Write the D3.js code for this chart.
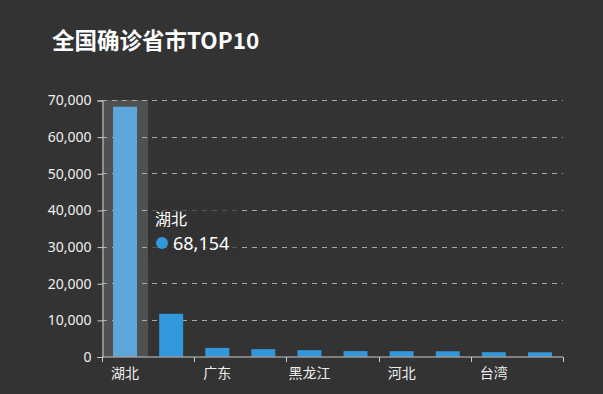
<!DOCTYPE html>
<html>
<head>
<meta charset="utf-8">
<script src="https://cdn.jsdelivr.net/npm/d3@7"></script>
<style>
	html, body { margin: 0; padding: 0; background: #333333; overflow: hidden; }
	svg { display: block; font-family: "Noto Sans CJK SC", "Noto Sans", sans-serif; }
</style>
</head>
<body>
<div id="chart"></div>
<script>

// data
var provinces = ["湖北", "香港", "广东", "上海", "黑龙江", "浙江", "河北", "河南", "台湾", "湖南"];
var confirmed = [68154, 11650, 2350, 2000, 1720, 1470, 1450, 1420, 1180, 1150];
var yTicks = [0, 10000, 20000, 30000, 40000, 50000, 60000, 70000];
var titleText = "全国确诊省市TOP10";
var active = 0;	// bar under the pointer

var width = 603,
	height = 394,
	margin = { top: 100, right: 40, bottom: 37.5, left: 102 };

var svg = d3.select("#chart").append("svg")
	.attr("width", width)
	.attr("height", height);

svg.append("rect")
	.attr("width", width)
	.attr("height", height)
	.attr("fill", "#333333");

// title
svg.append("text")
	.attr("x", 52)
	.attr("y", 49)
	.attr("fill", "#ffffff")
	.style("font-size", "22.5px")
	.style("font-weight", "bold")
	.text(titleText);

var xScale = d3.scaleBand()
	.domain(provinces)
	.range([margin.left, width - margin.right])
	.padding(0);

var yScale = d3.scaleLinear()
	.domain([0, 70000])
	.range([height - margin.bottom, margin.top]);

var g = svg.append("g");

// shadow behind the active bar
g.append("rect")
	.attr("x", xScale(provinces[active]))
	.attr("y", yScale(70000))
	.attr("width", xScale.bandwidth())
	.attr("height", yScale(0) - yScale(70000))
	.attr("fill", "rgba(150,150,150,0.3)");

// dashed grid lines
g.selectAll(".grid")
	.data(yTicks.slice(1)).enter()
	.append("line")
		.attr("class", "grid")
		.attr("x1", margin.left)
		.attr("x2", width - margin.right)
		.attr("y1", function(d){ return Math.round(yScale(d)) + 0.5 })
		.attr("y2", function(d){ return Math.round(yScale(d)) + 0.5 })
		.attr("stroke", "#aaaaaa")
		.attr("stroke-width", 1)
		.attr("stroke-dasharray", "5,5");

// bars
var barW = xScale.bandwidth() * 0.52;
g.selectAll(".bar")
	.data(confirmed).enter()
	.append("rect")
		.attr("class", "bar")
		.attr("x", function(d, i){ return xScale(provinces[i]) + (xScale.bandwidth() - barW) / 2 })
		.attr("y", function(d){ return yScale(d) })
		.attr("width", barW)
		.attr("height", function(d){ return yScale(0) - yScale(d) })
		.attr("fill", function(d, i){ return i == active ? "#5ca6d9" : "#3398db" });

// y axis
var yAxis = d3.axisLeft(yScale)
	.tickValues(yTicks)
	.tickSize(5)
	.tickPadding(6)
	.tickFormat(d3.format(","));

var yG = svg.append("g")
	.attr("transform", "translate(" + (margin.left + 0.5) + ",0.5)")
	.call(yAxis);
yG.select(".domain").attr("stroke", "#cccccc");
yG.selectAll(".tick line").attr("stroke", "#cccccc");
yG.selectAll(".tick text")
	.attr("fill", "#eeeeee")
	.style("font-size", "14px")
	.style("font-family", "'Noto Sans', sans-serif");

// x axis: label every other category, ticks on every other boundary
var xG = svg.append("g")
	.attr("transform", "translate(0," + (yScale(0) + 0.5) + ")");
xG.append("line")
	.attr("x1", margin.left)
	.attr("x2", width - margin.right)
	.attr("stroke", "#cccccc");
var bounds = d3.range(0, provinces.length + 1, 2).map(function(i){
	return i < provinces.length ? xScale(provinces[i]) : xScale.range()[1];
});
xG.selectAll(".xtick")
	.data(bounds).enter()
	.append("line")
		.attr("class", "xtick")
		.attr("x1", function(d){ return Math.round(d) + 0.5 })
		.attr("x2", function(d){ return Math.round(d) + 0.5 })
		.attr("y1", 0)
		.attr("y2", 5)
		.attr("stroke", "#cccccc");
xG.selectAll(".xlabel")
	.data(provinces.filter(function(d, i){ return i % 2 == 0 })).enter()
	.append("text")
		.attr("class", "xlabel")
		.attr("x", function(d){ return xScale(d) + xScale.bandwidth() / 2 })
		.attr("y", 21)
		.attr("text-anchor", "middle")
		.attr("fill", "#eeeeee")
		.style("font-size", "14px")
		.text(function(d){ return d });

// tooltip
var tip = svg.append("g").attr("transform", "translate(148,201)");
tip.append("rect")
	.attr("width", 94)
	.attr("height", 58)
	.attr("rx", 4)
	.attr("fill", "rgba(50,50,50,0.7)");
tip.append("text")
	.attr("x", 7)
	.attr("y", 24)
	.attr("fill", "#ffffff")
	.style("font-size", "16px")
	.text(provinces[active]);
tip.append("circle")
	.attr("cx", 14)
	.attr("cy", 42)
	.attr("r", 6)
	.attr("fill", "#3398db");
tip.append("text")
	.attr("x", 25)
	.attr("y", 48.5)
	.attr("fill", "#ffffff")
	.style("font-size", "18px")
	.style("font-family", "'Noto Sans', sans-serif")
	.text(d3.format(",")(confirmed[active]));

</script>
</body>
</html>
